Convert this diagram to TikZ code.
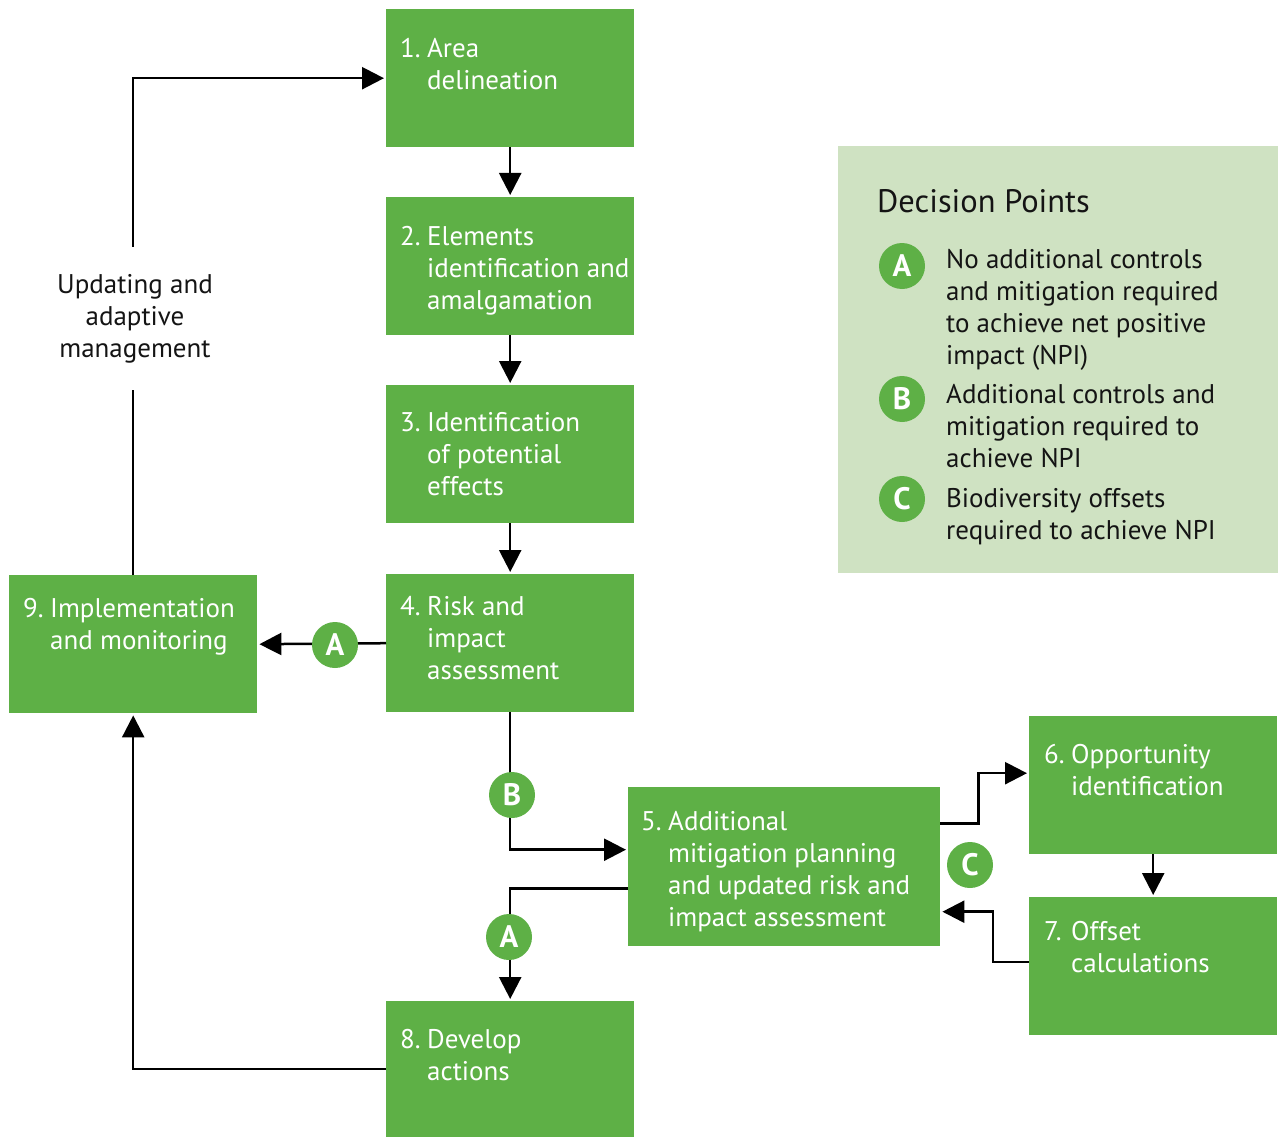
\documentclass[tikz,border=0pt]{standalone}
\usepackage{fontspec}
\setmainfont{PT Sans}
\usetikzlibrary{arrows.meta}
\definecolor{boxgreen}{RGB}{94,176,70}
\definecolor{legbg}{RGB}{207,226,194}
\definecolor{txtdark}{RGB}{20,20,20}
\newcommand\stxt[3]{\parbox[t]{#1pt}{\hangindent=27pt\hangafter=1\noindent\makebox[27pt][l]{#2}#3}}
\tikzset{
  stepbox/.style={fill=boxgreen, draw=none, inner sep=0pt, minimum width=248pt, minimum height=138pt, anchor=north west},
  steptext/.style={anchor=base west, inner sep=0pt, text=white, font=\fontsize{27}{32}\selectfont},
  legtext/.style={anchor=base west, inner sep=0pt, text=txtdark, font=\fontsize{27}{32}\selectfont},
  badge/.style={circle, fill=boxgreen, minimum size=46pt, inner sep=0pt, text=white, font=\bfseries\fontsize{31}{31}\selectfont},
  conn/.style={line width=2.5pt, draw=black},
  arr/.style={conn, -{Triangle[length=22pt,width=22pt]}, shorten >=2pt},
}
\begin{document}
\begin{tikzpicture}[x=1pt,y=-1pt]
\useasboundingbox (0,0) rectangle (1280,1137);
% legend
\node[fill=legbg, inner sep=0pt, minimum width=440pt, minimum height=427pt, anchor=north west] (leg) at (838,146) {};
\node[legtext, font=\fontsize{32.5}{36}\selectfont] (legtitle) at (877,212) {Decision Points};
\node[badge] (lA) at (902,266) {A};
\node[badge] (lB) at (902,399) {B};
\node[badge] (lC) at (902,499) {C};
\node[legtext] (lAt) at (946,268) {\parbox[t]{330pt}{\raggedright No additional controls\\ and mitigation required\\ to achieve net positive\\ impact (NPI)}};
\node[legtext] (lBt) at (946,403) {\parbox[t]{330pt}{\raggedright Additional controls and\\ mitigation required to\\ achieve NPI}};
\node[legtext] (lCt) at (946,507) {\parbox[t]{330pt}{\raggedright Biodiversity offsets\\ required to achieve NPI}};
% boxes
\node[stepbox] (b1) at (386,9) {};
\node[stepbox] (b2) at (386,197) {};
\node[stepbox] (b3) at (386,385) {};
\node[stepbox] (b4) at (386,574) {};
\node[stepbox] (b9) at (9,575) {};
\node[stepbox, minimum width=312pt, minimum height=159pt] (b5) at (628,787) {};
\node[stepbox] (b6) at (1029,716) {};
\node[stepbox] (b7) at (1029,897) {};
\node[stepbox, minimum height=136pt] (b8) at (386,1001) {};
% box texts
\node[steptext] (t1) at (400,58) {\stxt{230}{1.}{Area\newline delineation}};
\node[steptext] (t2) at (400,245) {\stxt{230}{2.}{Elements\newline identification and\newline amalgamation}};
\node[steptext] (t3) at (400,431) {\stxt{230}{3.}{Identification\newline of potential\newline effects}};
\node[steptext] (t4) at (400,615) {\stxt{230}{4.}{Risk and\newline impact\newline assessment}};
\node[steptext] (t9) at (23,617) {\stxt{240}{9.}{Implementation\newline and monitoring}};
\node[steptext] (t5) at (641,830) {\stxt{300}{5.}{Additional\newline mitigation planning\newline and updated risk and\newline impact assessment}};
\node[steptext] (t6) at (1044,763) {\stxt{230}{6.}{Opportunity\newline identification}};
\node[steptext] (t7) at (1044,940) {\stxt{230}{7.}{Offset\newline calculations}};
\node[steptext] (t8) at (400,1048) {\stxt{230}{8.}{Develop\newline actions}};
% updating label
\node[inner sep=0pt, minimum height=143pt, align=center, text=txtdark, font=\fontsize{27}{32}\selectfont] (upd) at (135,318.5) {Updating and\\ adaptive\\ management};
% connectors
\draw[arr] (b1.south) -- (b2.north);
\draw[arr] (b2.south) -- (b3.north);
\draw[arr] (b3.south) -- (b4.north);
\draw[arr] (b4.west) -- (b9.east);
\draw[arr] (b4.south) |- ([yshift=17pt]b5.west);
\draw[arr] ([yshift=-22pt]b5.west) -| (b8.north);
\draw[arr] ([yshift=43pt]b5.east) -- ++(38,0) |- ([yshift=12pt]b6.west);
\draw[arr] (b6.south) -- (b7.north);
\draw[arr] ([yshift=4pt]b7.west) -- ++(-36,0) |- ([yshift=-45pt]b5.east);
\draw[arr] (b8.west) -| (b9.south);
\draw[conn] (b9.north) -- (b9.north |- upd.south);
\draw[arr] (b9.north |- upd.north) |- (b1.west);
% badges on connectors
\node[badge] (cA1) at (335,645) {A};
\node[badge] (cB) at (512,795) {B};
\node[badge] (cA2) at (509,937) {A};
\node[badge] (cC) at (970,865) {C};
\end{tikzpicture}
\end{document}
